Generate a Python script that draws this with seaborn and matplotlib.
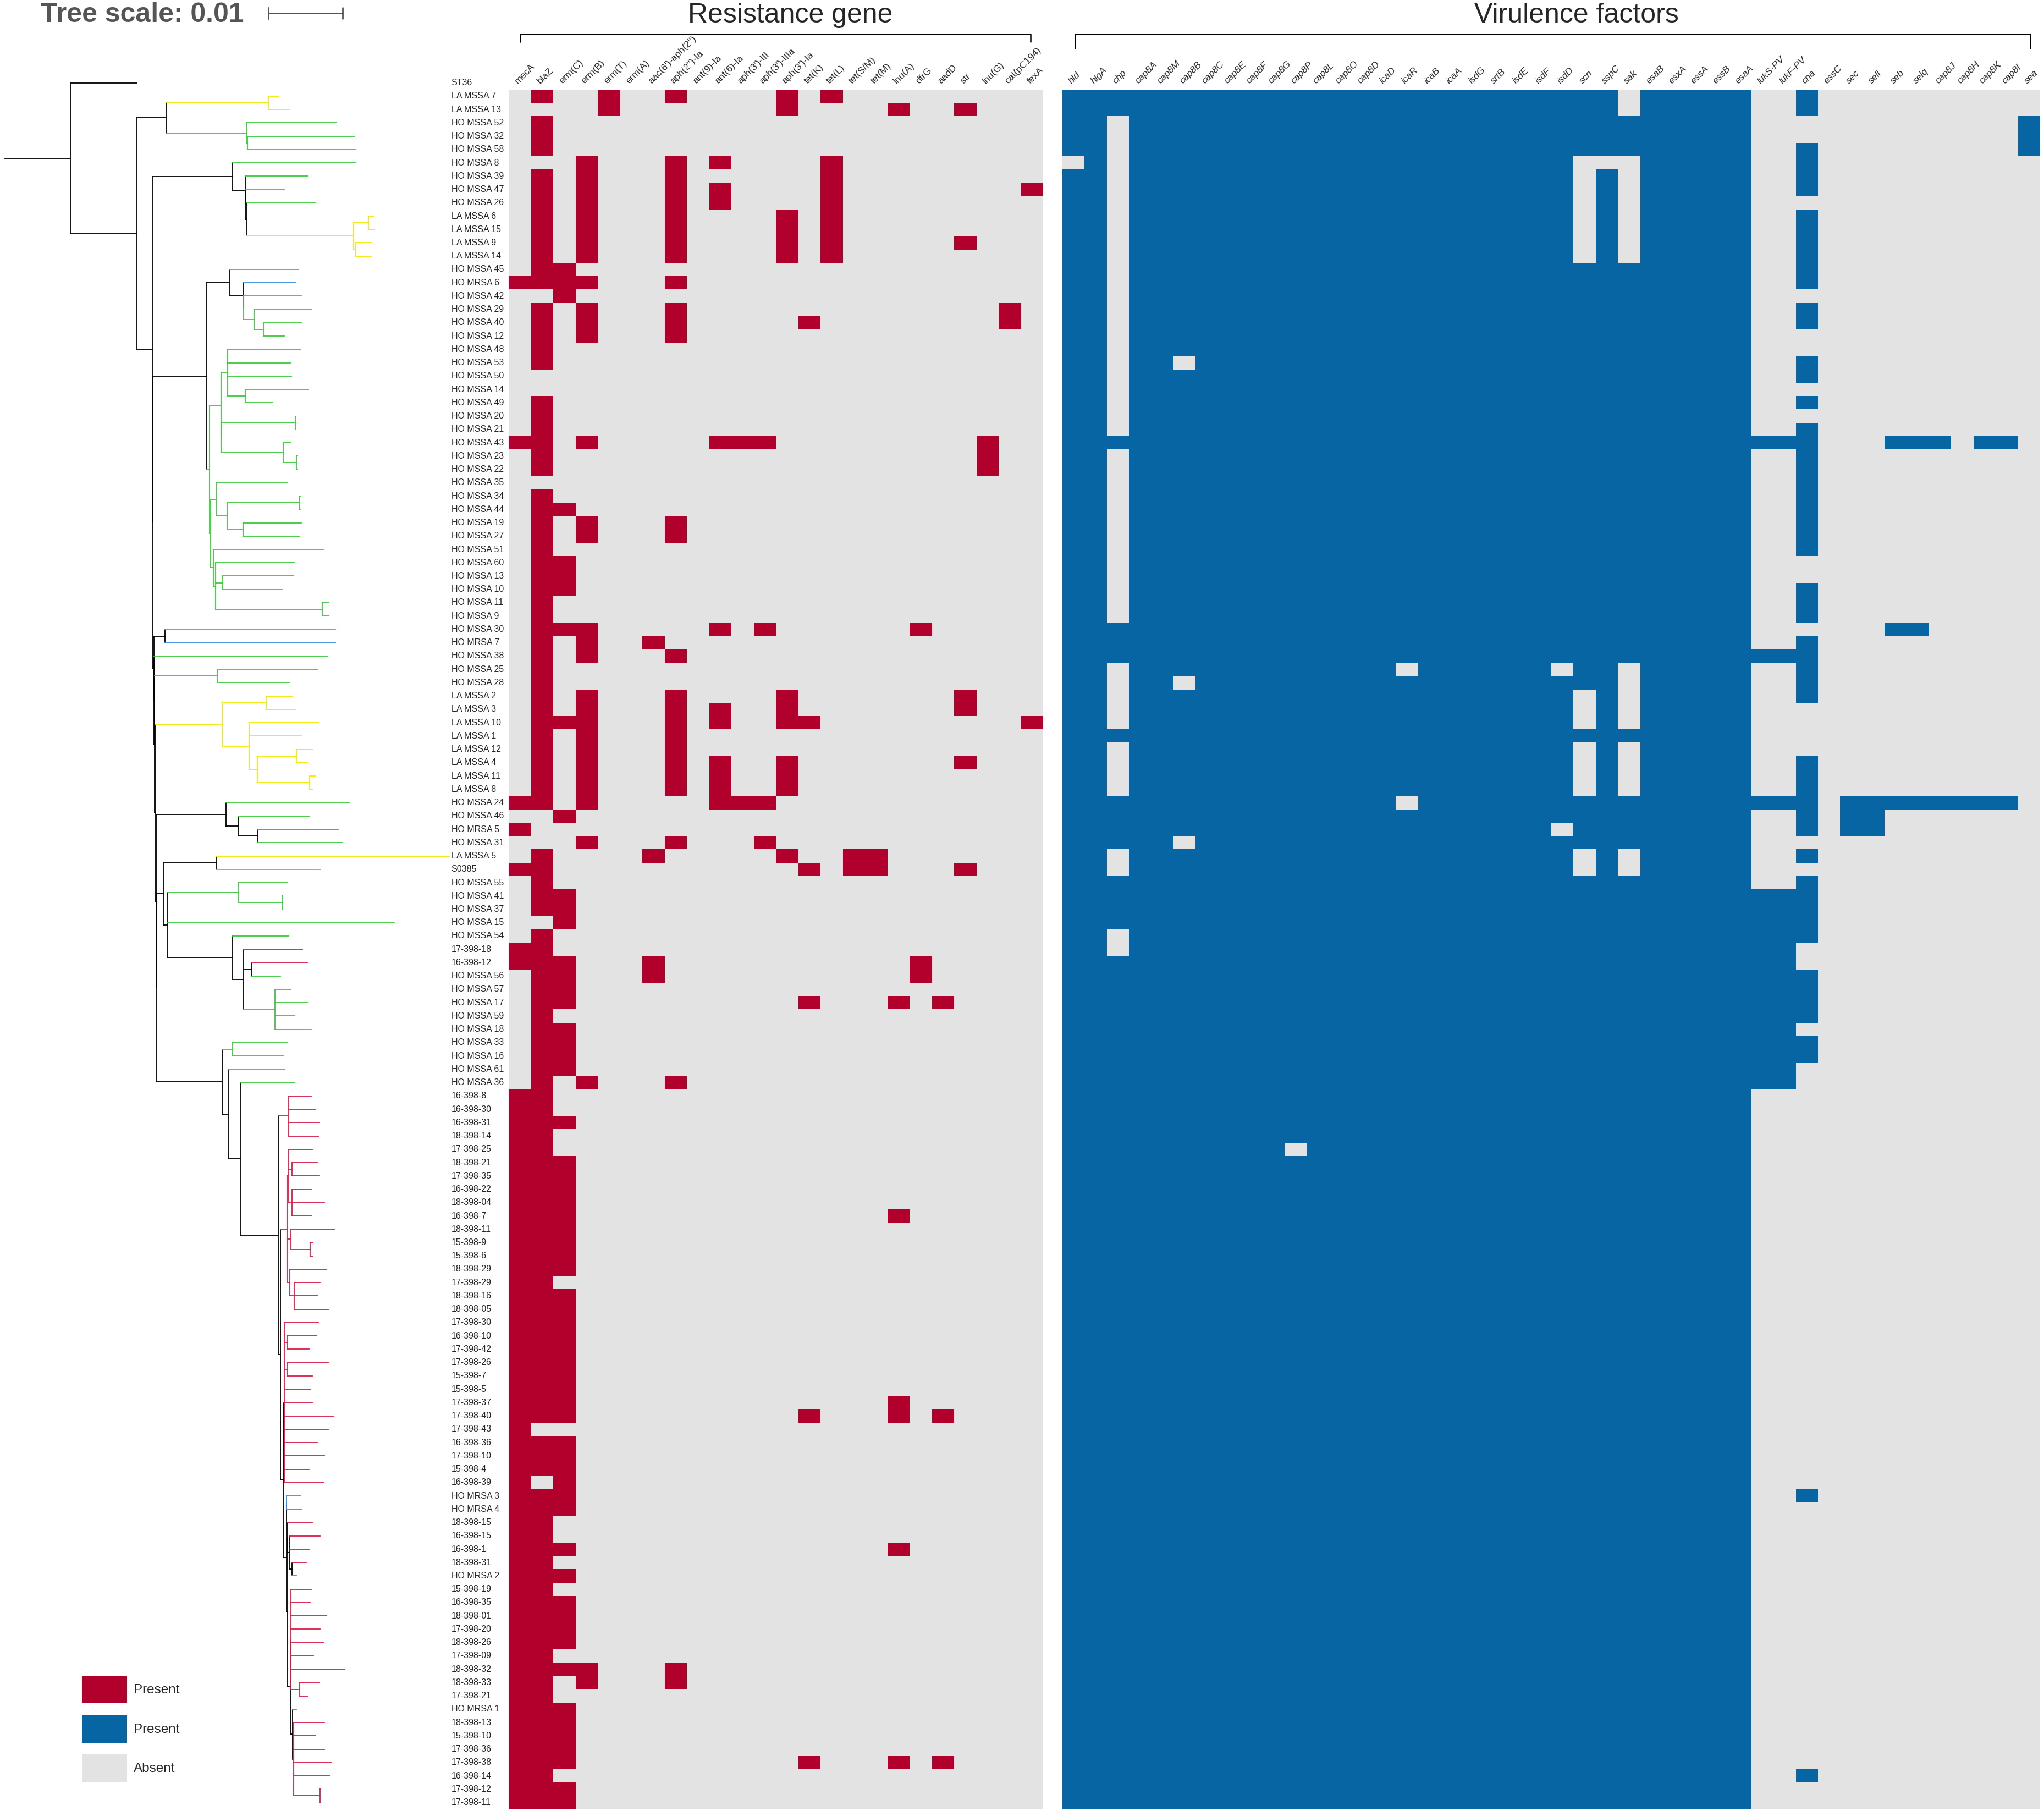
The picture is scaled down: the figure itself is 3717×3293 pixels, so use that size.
import numpy as np
import pandas as pd
import matplotlib
matplotlib.use("Agg")
import matplotlib.pyplot as plt
import seaborn as sns
from matplotlib.colors import ListedColormap
from matplotlib.patches import Rectangle
from matplotlib.lines import Line2D
from matplotlib.collections import LineCollection

sns.set_style("white")
plt.rcParams["font.family"] = ["Liberation Sans", "DejaVu Sans"]

# ----------------------------------------------------------------- data
SAMPLES = [
    "ST36",
    "LA MSSA 7", "LA MSSA 13", "HO MSSA 52", "HO MSSA 32", "HO MSSA 58", "HO MSSA 8", "HO MSSA 39", "HO MSSA 47", "HO MSSA 26", "LA MSSA 6",
    "LA MSSA 15", "LA MSSA 9", "LA MSSA 14", "HO MSSA 45", "HO MRSA 6", "HO MSSA 42", "HO MSSA 29", "HO MSSA 40", "HO MSSA 12", "HO MSSA 48",
    "HO MSSA 53", "HO MSSA 50", "HO MSSA 14", "HO MSSA 49", "HO MSSA 20", "HO MSSA 21", "HO MSSA 43", "HO MSSA 23", "HO MSSA 22", "HO MSSA 35",
    "HO MSSA 34", "HO MSSA 44", "HO MSSA 19", "HO MSSA 27", "HO MSSA 51", "HO MSSA 60", "HO MSSA 13", "HO MSSA 10", "HO MSSA 11", "HO MSSA 9",
    "HO MSSA 30", "HO MRSA 7", "HO MSSA 38", "HO MSSA 25", "HO MSSA 28", "LA MSSA 2", "LA MSSA 3", "LA MSSA 10", "LA MSSA 1", "LA MSSA 12",
    "LA MSSA 4", "LA MSSA 11", "LA MSSA 8", "HO MSSA 24", "HO MSSA 46", "HO MRSA 5", "HO MSSA 31", "LA MSSA 5", "S0385", "HO MSSA 55",
    "HO MSSA 41", "HO MSSA 37", "HO MSSA 15", "HO MSSA 54", "17-398-18", "16-398-12", "HO MSSA 56", "HO MSSA 57", "HO MSSA 17", "HO MSSA 59",
    "HO MSSA 18", "HO MSSA 33", "HO MSSA 16", "HO MSSA 61", "HO MSSA 36", "16-398-8", "16-398-30", "16-398-31", "18-398-14", "17-398-25",
    "18-398-21", "17-398-35", "16-398-22", "18-398-04", "16-398-7", "18-398-11", "15-398-9", "15-398-6", "18-398-29", "17-398-29",
    "18-398-16", "18-398-05", "17-398-30", "16-398-10", "17-398-42", "17-398-26", "15-398-7", "15-398-5", "17-398-37", "17-398-40",
    "17-398-43", "16-398-36", "17-398-10", "15-398-4", "16-398-39", "HO MRSA 3", "HO MRSA 4", "18-398-15", "16-398-15", "16-398-1",
    "18-398-31", "HO MRSA 2", "15-398-19", "16-398-35", "18-398-01", "17-398-20", "18-398-26", "17-398-09", "18-398-32", "18-398-33",
    "17-398-21", "HO MRSA 1", "18-398-13", "15-398-10", "17-398-36", "17-398-38", "16-398-14", "17-398-12", "17-398-11",
]

RES_GENES = ["mecA", "blaZ", "erm(C)", "erm(B)", "erm(T)", "erm(A)", "aac(6')-aph(2'')", "aph(2'')-Ia",
             "ant(9)-Ia", "ant(6)-Ia", "aph(3')-III", "aph(3')-IIIa", "aph(3')-Ia", "tet(K)", "tet(L)",
             "tet(S/M)", "tet(M)", "lnu(A)", "dfrG", "aadD", "str", "lnu(G)", "cat(pC194)", "fexA"]

VIR_GENES = ["hld", "hlgA", "chp", "cap8A", "cap8M", "cap8B", "cap8C", "cap8E", "cap8F", "cap8G", "cap8P",
             "cap8L", "cap8O", "cap8D", "icaD", "icaR", "icaB", "icaA", "isdG", "srtB", "isdE", "isdF",
             "isdD", "scn", "sspC", "sak", "esaB", "esxA", "essA", "essB", "esaA", "lukS-PV", "lukF-PV",
             "cna", "essC", "sec", "sell", "seb", "selq", "cap8J", "cap8H", "cap8K", "cap8I", "sea"]

# indices of resistance genes present, one list per sample (ST36 has no data)
RES_PRESENT = [
    [1, 4, 7, 12, 14], [4, 12, 17, 20], [1], [1], [1], [3, 7, 9, 14], [1, 3, 7, 14], [1, 3, 7, 9, 14, 23],
    [1, 3, 7, 9, 14], [1, 3, 7, 12, 14], [1, 3, 7, 12, 14], [1, 3, 7, 12, 14, 20], [1, 3, 7, 12, 14],
    [1, 2], [0, 1, 2, 3, 7], [2], [1, 3, 7, 22], [1, 3, 7, 13, 22], [1, 3, 7], [1], [1], [], [],
    [1], [1], [1], [0, 1, 3, 9, 10, 11, 21], [1, 21], [1, 21], [], [1], [1, 2], [1, 3, 7], [1, 3, 7],
    [1], [1, 2], [1, 2], [1, 2], [1], [1], [1, 2, 3, 9, 11, 18], [1, 3, 6], [1, 3, 7], [1], [1],
    [1, 3, 7, 12, 20], [1, 3, 7, 9, 12, 20], [1, 2, 3, 7, 9, 12, 13, 23], [1, 3, 7], [1, 3, 7],
    [1, 3, 7, 9, 12, 20], [1, 3, 7, 9, 12], [1, 3, 7, 9, 12], [0, 1, 3, 9, 10, 11], [2], [0],
    [3, 7, 11], [1, 6, 12, 15, 16], [0, 1, 13, 15, 16, 20], [1], [1, 2], [1, 2], [2], [1],
    [0, 1], [0, 1, 2, 6, 18], [1, 2, 6, 18], [1, 2], [1, 2, 13, 17, 19], [1], [1, 2], [1, 2], [1, 2], [1, 2],
    [1, 3, 7], [0, 1], [0, 1], [0, 1, 2], [0, 1], [0, 1],
    [0, 1, 2], [0, 1, 2], [0, 1, 2], [0, 1, 2], [0, 1, 2, 17], [0, 1, 2], [0, 1, 2], [0, 1, 2], [0, 1, 2],
    [0, 1], [0, 1, 2], [0, 1, 2], [0, 1, 2], [0, 1, 2], [0, 1, 2], [0, 1, 2], [0, 1, 2], [0, 1, 2],
    [0, 1, 2, 17], [0, 1, 2, 13, 17, 19], [0], [0, 1, 2], [0, 1, 2], [0, 1, 2], [0, 2],
    [0, 1, 2], [0, 1, 2], [0, 1], [0, 1], [0, 1, 2, 17], [0, 1], [0, 1, 2], [0, 1],
    [0, 1, 2], [0, 1, 2], [0, 1, 2], [0, 1, 2], [0, 1], [0, 1, 2, 3, 7], [0, 1, 3, 7], [0, 1],
    [0, 1, 2], [0, 1, 2], [0, 1, 2], [0, 1, 2], [0, 1, 2, 13, 17, 19], [0, 1], [0, 1, 2], [0, 1, 2],
]

# virulence presence (1) / absence (0), one string per sample in VIR_GENES order
VIR_ROWS = [
    "1111111111111111111111111011111|0010000000000",
    "1111111111111111111111111011111|0010000000000",
    "1101111111111111111111111111111|0000000000001",
    "1101111111111111111111111111111|0000000000001",
    "1101111111111111111111111111111|0010000000001",
    "0101111111111111111111100011111|0010000000000",
    "1101111111111111111111101011111|0010000000000",
    "1101111111111111111111101011111|0010000000000",
    "1101111111111111111111101011111|0000000000000",
    "1101111111111111111111101011111|0010000000000",
    "1101111111111111111111101011111|0010000000000",
    "1101111111111111111111101011111|0010000000000",
    "1101111111111111111111101011111|0010000000000",
    "1101111111111111111111111111111|0010000000000",
    "1101111111111111111111111111111|0010000000000",
    "1101111111111111111111111111111|0000000000000",
    "1101111111111111111111111111111|0010000000000",
    "1101111111111111111111111111111|0010000000000",
    "1101111111111111111111111111111|0000000000000",
    "1101111111111111111111111111111|0000000000000",
    "1101101111111111111111111111111|0010000000000",
    "1101111111111111111111111111111|0010000000000",
    "1101111111111111111111111111111|0000000000000",
    "1101111111111111111111111111111|0010000000000",
    "1101111111111111111111111111111|0000000000000",
    "1101111111111111111111111111111|0010000000000",
    "1111111111111111111111111111111|1110001110110",
    "1101111111111111111111111111111|0010000000000",
    "1101111111111111111111111111111|0010000000000",
    "1101111111111111111111111111111|0010000000000",
    "1101111111111111111111111111111|0010000000000",
    "1101111111111111111111111111111|0010000000000",
    "1101111111111111111111111111111|0010000000000",
    "1101111111111111111111111111111|0010000000000",
    "1101111111111111111111111111111|0010000000000",
    "1101111111111111111111111111111|0000000000000",
    "1101111111111111111111111111111|0000000000000",
    "1101111111111111111111111111111|0010000000000",
    "1101111111111111111111111111111|0010000000000",
    "1101111111111111111111111111111|0010000000000",
    "1111111111111111111111111111111|0000001100000",
    "1111111111111111111111111111111|0010000000000",
    "1111111111111111111111111111111|1110000000000",
    "1101111111111110111111011011111|0010000000000",
    "1101101111111111111111111011111|0010000000000",
    "1101111111111111111111101011111|0010000000000",
    "1101111111111111111111101011111|0000000000000",
    "1101111111111111111111101011111|0000000000000",
    "1111111111111111111111111111111|0000000000000",
    "1101111111111111111111101011111|0000000000000",
    "1101111111111111111111101011111|0010000000000",
    "1101111111111111111111101011111|0010000000000",
    "1101111111111111111111101011111|0010000000000",
    "1111111111111110111111111111111|1110111111110",
    "1111111111111111111111111111111|0010110000000",
    "1111111111111111111111011111111|0010110000000",
    "1111101111111111111111111111111|0000000000000",
    "1101111111111111111111101011111|0010000000000",
    "1101111111111111111111101011111|0000000000000",
    "1111111111111111111111111111111|0010000000000",
    "1111111111111111111111111111111|1110000000000",
    "1111111111111111111111111111111|1110000000000",
    "1111111111111111111111111111111|1110000000000",
    "1101111111111111111111111111111|1110000000000",
    "1101111111111111111111111111111|1100000000000",
    "1111111111111111111111111111111|1100000000000",
    "1111111111111111111111111111111|1110000000000",
    "1111111111111111111111111111111|1110000000000",
    "1111111111111111111111111111111|1110000000000",
    "1111111111111111111111111111111|1110000000000",
    "1111111111111111111111111111111|1100000000000",
    "1111111111111111111111111111111|1110000000000",
    "1111111111111111111111111111111|1110000000000",
    "1111111111111111111111111111111|1100000000000",
    "1111111111111111111111111111111|1100000000000",
    "1111111111111111111111111111111|0000000000000",
    "1111111111111111111111111111111|0000000000000",
    "1111111111111111111111111111111|0000000000000",
    "1111111111111111111111111111111|0000000000000",
    "1111111111011111111111111111111|0000000000000",
    "1111111111111111111111111111111|0000000000000",
    "1111111111111111111111111111111|0000000000000",
    "1111111111111111111111111111111|0000000000000",
    "1111111111111111111111111111111|0000000000000",
    "1111111111111111111111111111111|0000000000000",
    "1111111111111111111111111111111|0000000000000",
    "1111111111111111111111111111111|0000000000000",
    "1111111111111111111111111111111|0000000000000",
    "1111111111111111111111111111111|0000000000000",
    "1111111111111111111111111111111|0000000000000",
    "1111111111111111111111111111111|0000000000000",
    "1111111111111111111111111111111|0000000000000",
    "1111111111111111111111111111111|0000000000000",
    "1111111111111111111111111111111|0000000000000",
    "1111111111111111111111111111111|0000000000000",
    "1111111111111111111111111111111|0000000000000",
    "1111111111111111111111111111111|0000000000000",
    "1111111111111111111111111111111|0000000000000",
    "1111111111111111111111111111111|0000000000000",
    "1111111111111111111111111111111|0000000000000",
    "1111111111111111111111111111111|0000000000000",
    "1111111111111111111111111111111|0000000000000",
    "1111111111111111111111111111111|0000000000000",
    "1111111111111111111111111111111|0000000000000",
    "1111111111111111111111111111111|0000000000000",
    "1111111111111111111111111111111|0010000000000",
    "1111111111111111111111111111111|0000000000000",
    "1111111111111111111111111111111|0000000000000",
    "1111111111111111111111111111111|0000000000000",
    "1111111111111111111111111111111|0000000000000",
    "1111111111111111111111111111111|0000000000000",
    "1111111111111111111111111111111|0000000000000",
    "1111111111111111111111111111111|0000000000000",
    "1111111111111111111111111111111|0000000000000",
    "1111111111111111111111111111111|0000000000000",
    "1111111111111111111111111111111|0000000000000",
    "1111111111111111111111111111111|0000000000000",
    "1111111111111111111111111111111|0000000000000",
    "1111111111111111111111111111111|0000000000000",
    "1111111111111111111111111111111|0000000000000",
    "1111111111111111111111111111111|0000000000000",
    "1111111111111111111111111111111|0000000000000",
    "1111111111111111111111111111111|0000000000000",
    "1111111111111111111111111111111|0000000000000",
    "1111111111111111111111111111111|0000000000000",
    "1111111111111111111111111111111|0000000000000",
    "1111111111111111111111111111111|0010000000000",
    "1111111111111111111111111111111|0000000000000",
    "1111111111111111111111111111111|0000000000000",
]

# phylogeny (Newick fragments, branch lengths in 1e-4 substitutions/site)
NWK_B = "((LA MSSA 7:14,LA MSSA 13:29):137,(HO MSSA 52:121,(HO MSSA 32:144,HO MSSA 58:146):1):108)"
NWK_D = ("(HO MSSA 8:166,(HO MSSA 39:84,(HO MSSA 47:52,(HO MSSA 26:94,((LA MSSA 6:7,LA MSSA 15:8):20,"
         "(LA MSSA 9:20.5,LA MSSA 14:20.5):3):145):0.5):0.5):18)")
NWK_E1 = ("(HO MSSA 45:93,(HO MRSA 6:70,(HO MSSA 42:78,(HO MSSA 29:77,(HO MSSA 40:51,HO MSSA 12:28):12.6)"
          ":14.4):0.4):18.5)")
NWK_E2 = ("((HO MSSA 48:97.6,HO MSSA 53:84,HO MSSA 50:85.4,(HO MSSA 14:85.7,HO MSSA 49:37):23.2):9.4,"
          "((HO MSSA 20:1,HO MSSA 21:1):99.6,(HO MSSA 43:11,(HO MSSA 23:1,HO MSSA 22:1):18.3):83.3):0.4)")
NWK_E3 = ("((HO MSSA 35:95.3,((HO MSSA 34:1.5,HO MSSA 44:1.5):97.3,(HO MSSA 19:78.2,HO MSSA 27:75.6):21.7)"
          ":14.4):8.1,(HO MSSA 51:147.8,(HO MSSA 60:106,(HO MSSA 13:95.3,HO MSSA 10:80.1):9.7,"
          "(HO MSSA 11:8.9,HO MSSA 9:8.9):143.8):3.1):3.9)")
NWK_E = "({E1}:30.7,({E2}:15,{E3}:1.1):3.9)"
NWK_Y = ("((LA MSSA 2:35.3,LA MSSA 3:39.9):59.3,(LA MSSA 10:93.8,LA MSSA 1:70.8,((LA MSSA 12:21.3,"
         "LA MSSA 4:15.5):52.4,(LA MSSA 11:8.3,LA MSSA 8:3.5):70.2):11.6):36)")
NWK_F = "(HO MSSA 24:165.8,(HO MSSA 46:96.1,(HO MRSA 5:108.9,HO MSSA 31:114.4):25.9):16.6)"
NWK_G = ("((LA MSSA 5:314.6,S0385:141.3):71,((HO MSSA 55:66.2,(HO MSSA 41:1.1,HO MSSA 37:1.1):58.5):95.3,"
         "HO MSSA 15:304.8,(HO MSSA 54:75.6,(17-398-18:79.8,(16-398-12:75.6,HO MSSA 56:39.6):10.8,"
         "(HO MSSA 57:21.9,HO MSSA 17:43.8,HO MSSA 59:27,HO MSSA 18:48.8):42.6):14.4):87.1):6.3)")
NWK_R1 = ("((17-398-25:31.8,(18-398-21:33.6,17-398-35:36.7):4.7,(16-398-22:25.9,18-398-04:43.3,"
          "16-398-7:25.9):4.7):2.4,(18-398-11:58.7,(15-398-9:3.9,15-398-6:3.9):25.8):5.6,"
          "(18-398-29:49.3,(17-398-29:35.1,18-398-16:31,18-398-05:46.1):5.6):4.1)")
NWK_R2 = ("(17-398-30:46.3,(16-398-10:39.9,17-398-42:30):3.7,(17-398-26:55.8,15-398-7:34.1):3.7,"
          "15-398-5:35.9,17-398-37:37.8,17-398-40:66.8,17-398-43:59.5,16-398-36:44.4,17-398-10:54.4,"
          "15-398-4:33.7,16-398-39:53.3)")
NWK_R3 = ("((18-398-15:32.7,(16-398-15:40.7,16-398-1:25.9,(18-398-31:19.3,HO MRSA 2:5.7):3):2.7):0.2,"
          "((15-398-19:27.8,16-398-35:26.1,18-398-01:48.2,17-398-20:39.6,18-398-26:44.4,17-398-09:30.7,"
          "18-398-32:72.7,(18-398-33:26.3,17-398-21:10.1):12.2):0.4,(HO MRSA 1:5,(18-398-13:41.9,"
          "15-398-10:30,17-398-36:41.9,17-398-38:51.5,16-398-14:49.3,(17-398-12:0.7,17-398-11:0.7):35.9)"
          ":1.1):3):3.7)")
NWK_RED = ("((16-398-8:30.7,16-398-30:36.4,16-398-31:41.4,18-398-14:40.3):13.6,({R1}:8.4,({R2}:0.2,"
           "((HO MRSA 3:18.1,HO MRSA 4:20.7):0.4,{R3}:1.9):3.1):4.6):2.7)")
NWK_H2 = "((HO MSSA 33:73.6,HO MSSA 16:68.4):13.9,(HO MSSA 61:75.6,(HO MSSA 36:73.9,{RED}:51.9):15.1):8.9)"
NWK_K = ("((HO MSSA 30:229.7,HO MRSA 7:229.7):15.3,(HO MSSA 38:234,((HO MSSA 25:136,HO MSSA 28:98.2):84,"
         "({Y}:90.2,({F}:94.1,({G}:8.5,{H2}:88):1.1):1.1):0.7):0.7):0.7)")
NWK_C = "({D}:107,({E}:72.6,{K}:1.1):0.4)"
NWK_ROOT = "(ST36:89,({B}:40,{C}:21):89):89;"
TREE_SCALE = 100  # 0.01 substitutions/site

LEGEND_LABELS = ["Present", "Present", "Absent"]

# ----------------------------------------------------------------- style
RED = "#B1002C"
BLUE = "#0865A3"
GREY = "#E3E3E3"
BRANCH_COLORS = {"LA": "#F2EA00", "HOS": "#3DC83D", "HOR": "#3A8FE3", "398": "#D91E4A",
                 "S0385": "#F08C28", "ST36": "black", "mixed": "black"}


def category(name):
    if name.startswith("LA MSSA"):
        return "LA"
    if name.startswith("HO MSSA"):
        return "HOS"
    if name.startswith("HO MRSA"):
        return "HOR"
    if "-398-" in name:
        return "398"
    return name


assert len(SAMPLES) == 130
assert len(RES_PRESENT) == len(SAMPLES) - 1, len(RES_PRESENT)
assert len(VIR_ROWS) == len(SAMPLES) - 1, len(VIR_ROWS)

# ----------------------------------------------------------------- figure
W, H = 3717, 3293
fig = plt.figure(figsize=(W / 100, H / 100), dpi=100)
fig.patch.set_facecolor("white")


def px_axes(x0, y0, x1, y1):
    return fig.add_axes([x0 / W, 1 - y1 / H, (x1 - x0) / W, (y1 - y0) / H])


ROW_TOP, ROW_H = 138.5, 24.24
ROW_BOT = ROW_TOP + ROW_H * len(SAMPLES)

res = np.full((len(SAMPLES), len(RES_GENES)), np.nan)
for i, genes in enumerate(RES_PRESENT):
    res[i + 1, :] = 0
    res[i + 1, genes] = 1
res_df = pd.DataFrame(res, index=SAMPLES, columns=RES_GENES)

vir = np.full((len(SAMPLES), len(VIR_GENES)), np.nan)
for i, row in enumerate(VIR_ROWS):
    vals = [int(ch) for ch in row.replace("|", "")]
    assert len(vals) == len(VIR_GENES), (i, len(vals))
    vir[i + 1, :] = vals
vir_df = pd.DataFrame(vir, index=SAMPLES, columns=VIR_GENES)

# resistance heatmap
ax_res = px_axes(925, ROW_TOP, 1897, ROW_BOT)
sns.heatmap(res_df, ax=ax_res, cmap=ListedColormap([GREY, RED]), vmin=0, vmax=1,
            cbar=False, xticklabels=False, yticklabels=False)
ax_res.set_yticks(np.arange(len(SAMPLES)) + 0.5)
ax_res.set_yticklabels(SAMPLES, rotation=0, ha="left", va="center", fontsize=11.5)
ax_res.tick_params(axis="y", length=0, pad=75.2)
ax_res.set_xlabel("")
ax_res.set_ylabel("")
for c, g in enumerate(RES_GENES):
    ax_res.text(c + 0.42, 0.58, g, rotation=45, rotation_mode="anchor", ha="left",
                va="baseline", fontsize=12.5, clip_on=False)

# virulence heatmap
ax_vir = px_axes(1932, ROW_TOP, 3710, ROW_BOT)
sns.heatmap(vir_df, ax=ax_vir, cmap=ListedColormap([GREY, BLUE]), vmin=0, vmax=1,
            cbar=False, xticklabels=False, yticklabels=False)
ax_vir.set_xlabel("")
ax_vir.set_ylabel("")
for c, g in enumerate(VIR_GENES):
    ax_vir.text(c + 0.42, 0.58, g, rotation=45, rotation_mode="anchor", ha="left",
                va="baseline", fontsize=12.5, fontstyle="italic", clip_on=False)


# ----------------------------------------------------------------- tree
def parse_newick(s):
    s = s.strip().rstrip(";")
    pos = 0

    def parse_node():
        nonlocal pos
        node = {"children": [], "name": "", "len": 0.0}
        if s[pos] == "(":
            pos += 1
            while True:
                node["children"].append(parse_node())
                if s[pos] == ",":
                    pos += 1
                else:
                    pos += 1
                    break
        start = pos
        while pos < len(s) and s[pos] not in ":,()":
            pos += 1
        node["name"] = s[start:pos].strip()
        if pos < len(s) and s[pos] == ":":
            pos += 1
            start = pos
            while pos < len(s) and s[pos] not in ",()":
                pos += 1
            node["len"] = float(s[start:pos])
        return node

    return parse_node()


nwk_e = NWK_E.format(E1=NWK_E1, E2=NWK_E2, E3=NWK_E3)
nwk_red = NWK_RED.format(R1=NWK_R1, R2=NWK_R2, R3=NWK_R3)
nwk_h2 = NWK_H2.format(RED=nwk_red)
nwk_k = NWK_K.format(Y=NWK_Y, F=NWK_F, G=NWK_G, H2=nwk_h2)
nwk_c = NWK_C.format(D=NWK_D, E=nwk_e, K=nwk_k)
tree = parse_newick(NWK_ROOT.format(B=NWK_B, C=nwk_c))

row_of = {n: i for i, n in enumerate(SAMPLES)}


def layout(node, x_parent):
    node["x"] = x_parent + node["len"]
    if node["children"]:
        for ch in node["children"]:
            layout(ch, node["x"])
        node["y"] = (node["children"][0]["y"] + node["children"][-1]["y"]) / 2
        cats = {ch["cat"] for ch in node["children"]}
        node["cat"] = cats.pop() if len(cats) == 1 else "mixed"
    else:
        node["y"] = row_of[node["name"]] + 0.5
        node["cat"] = category(node["name"])


layout(tree, -tree["len"])

segs, cols = [], []


def collect(node, x_parent):
    col = BRANCH_COLORS.get(node["cat"], "black")
    segs.append([(x_parent, node["y"]), (node["x"], node["y"])])
    cols.append(col)
    if node["children"]:
        segs.append([(node["x"], node["children"][0]["y"]), (node["x"], node["children"][-1]["y"])])
        cols.append(col)
        for ch in node["children"]:
            collect(ch, node["x"])


collect(tree, -tree["len"])

ax_tree = px_axes(0, ROW_TOP, 818, ROW_BOT)
ax_tree.set_xlim(-95.6, 510.4)
ax_tree.set_ylim(len(SAMPLES), 0)
ax_tree.axis("off")
ax_tree.add_collection(LineCollection(segs, colors=cols, linewidths=1.3, capstyle="projecting"))

# tree scale
bar_y = (24 - ROW_TOP) / ROW_H
bar_x0 = 265.6
ax_tree.plot([bar_x0, bar_x0 + TREE_SCALE], [bar_y, bar_y], color="#555555", lw=2, clip_on=False)
for bx in (bar_x0, bar_x0 + TREE_SCALE):
    ax_tree.plot([bx, bx], [bar_y - 0.4, bar_y + 0.4], color="#555555", lw=2, clip_on=False)
ax_tree.text(232.6, (40 - ROW_TOP) / ROW_H, "Tree scale: 0.01", ha="right", va="baseline",
             fontsize=36, fontweight="bold", color="#555555", clip_on=False)

# ----------------------------------------------------------------- titles & brackets
fig.text(1437 / W, 1 - 28 / H, "Resistance gene", ha="center", va="center", fontsize=36)
fig.text(2867 / W, 1 - 28 / H, "Virulence factors", ha="center", va="center", fontsize=36)
for (x0, x1, yb) in ((946, 1874, 76), (1955, 3692, 88)):
    fig.add_artist(Line2D([x0 / W, x0 / W, x1 / W, x1 / W],
                          [1 - yb / H, 1 - 62 / H, 1 - 62 / H, 1 - yb / H],
                          color="black", lw=1.8, transform=fig.transFigure))

# ----------------------------------------------------------------- legend (key boxes)
ax_leg = px_axes(140, 3030, 440, 3255)
ax_leg.set_xlim(140, 440)
ax_leg.set_ylim(3255, 3030)
ax_leg.axis("off")
for (y0, col, lab) in zip((3047, 3119, 3190), (RED, BLUE, GREY), LEGEND_LABELS):
    ax_leg.add_patch(Rectangle((149, y0), 82, 50, facecolor=col, edgecolor="none"))
    ax_leg.text(243, y0 + 26, lab, ha="left", va="center", fontsize=17.5)

fig.savefig("out.png", dpi=100, facecolor="white")
